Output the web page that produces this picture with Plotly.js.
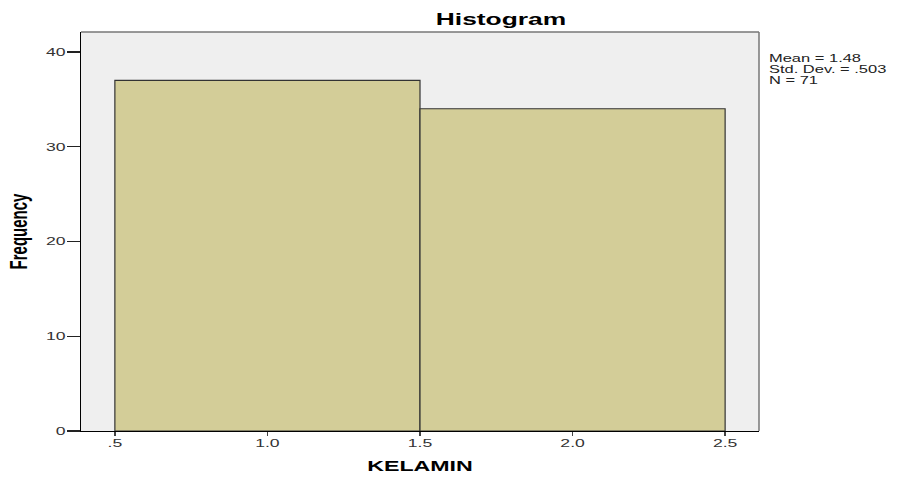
<!DOCTYPE html>
<html><head><meta charset="utf-8">
<script src="https://cdn.plot.ly/plotly-3.0.1.min.js"></script>
<style>body{margin:0;background:#fff}#c{width:899px;height:477px}</style>
</head><body><div id="c"></div>
<script>
const binCenters = [1.0, 2.0];
const binWidths = [1.0, 1.0];
const frequencies = [37, 34];
const xTickVals = [0.5, 1.0, 1.5, 2.0, 2.5];
const xTickText = [".5", "1.0", "1.5", "2.0", "2.5"];
const yTickVals = [0, 10, 20, 30, 40];
const statsText = ["Mean = 1.48", "Std. Dev. = .503", "N = 71"];

const ARIAL = 'Arial, "Liberation Sans", sans-serif';
const plotTop = 32, plotBottom = 431, plotH = plotBottom - plotTop;
const statsY = [58.5, 69.5, 80.5];

const trace = {
  type: 'bar', x: binCenters, y: frequencies, width: binWidths,
  marker: {color: '#d3cd98', line: {color: '#333333', width: 1.2}},
  hoverinfo: 'skip'
};
const layout = {
  width: 899, height: 477,
  margin: {l: 81, r: 140, t: plotTop, b: 477 - plotBottom},
  paper_bgcolor: '#ffffff', plot_bgcolor: '#efefef',
  showlegend: false,
  font: {family: ARIAL, color: '#333'},
  title: {text: 'Histogram', font: {size: 16.5, color: '#000', weight: 'bold', family: ARIAL},
          x: 501/899, xanchor: 'center', y: 1 - 19/477, yanchor: 'middle'},
  xaxis: {
    range: [0.389, 2.611], tickvals: xTickVals, ticktext: xTickText,
    showgrid: false, zeroline: false, showline: true, linecolor: '#000', linewidth: 1.2,
    ticks: 'outside', ticklen: 4, tickcolor: '#444', tickwidth: 1.5,
    ticklabelstandoff: -2,
    tickfont: {size: 11, color: '#333'},
    title: {text: 'KELAMIN', font: {size: 14.5, color: '#000', weight: 'bold'}, standoff: 12}
  },
  yaxis: {
    range: [0, 42.1], tickvals: yTickVals,
    showgrid: false, zeroline: false, showline: true, linecolor: '#000', linewidth: 1.2,
    ticks: 'outside', ticklen: 13, tickcolor: '#222', tickwidth: 1.2,
    ticklabelstandoff: -1,
    tickfont: {size: 11, color: '#333'},
    title: {text: 'Frequency', font: {size: 15, color: '#000', weight: 'bold'}, standoff: 22}
  },
  shapes: [
    {type: 'line', xref: 'paper', yref: 'paper', x0: 0, x1: 1, y0: 1, y1: 1, line: {color: '#777', width: 1.5}},
    {type: 'line', xref: 'paper', yref: 'paper', x0: 1, x1: 1, y0: 0, y1: 1, line: {color: '#777', width: 1.5}}
  ],
  annotations: statsText.map((t, i) => ({
    xref: 'paper', yref: 'paper', x: 1, xshift: 9, y: (plotBottom - statsY[i]) / plotH,
    xanchor: 'left', yanchor: 'middle', text: t, showarrow: false, align: 'left',
    borderpad: 0,
    font: {size: 10.3, color: '#222'}
  }))
};

// the reference picture is horizontally stretched; stretch the text the same way
function stretchText(s) {
  document.querySelectorAll('#c svg text').forEach(t => {
    if (t.dataset.stretched) return;
    const x = parseFloat(t.getAttribute('x')) || 0;
    const tr = t.getAttribute('transform') || '';
    const sc = `translate(${x},0) scale(${s},1) translate(${-x},0)`;
    t.setAttribute('transform', /rotate/.test(tr) ? sc + ' ' + tr : tr + ' ' + sc);
    t.dataset.stretched = '1';
  });
}
Plotly.newPlot('c', [trace], layout, {displayModeBar: false, staticPlot: true})
  .then(() => stretchText(1.6));
</script></body></html>
